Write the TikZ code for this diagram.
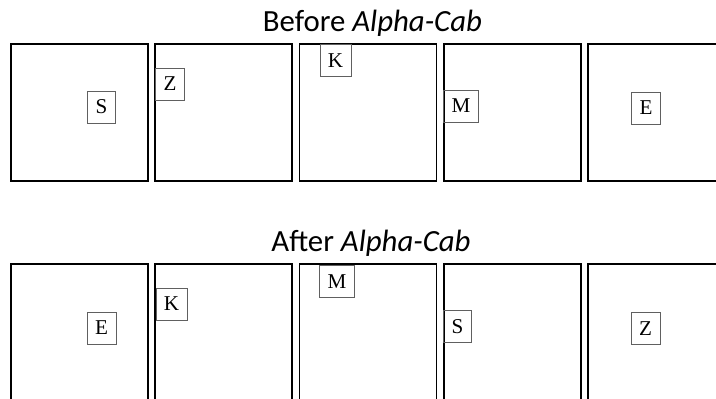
\documentclass[tikz,border=0pt]{standalone}
\usepackage{fontspec}
\setmainfont{Liberation Serif}
\newfontfamily\headfont{Carlito}
\tikzset{bay/.style = {draw, line width = 1.4pt}}
\tikzset{tag/.style = {draw = gray!75!black, line width = 0.5pt, inner xsep = 6.8pt,
    inner ysep = 0, minimum height = 27.3pt, font = \fontsize{18}{18}\selectfont}}
\tikzset{head/.style = {anchor = base, inner sep = 0, font = \headfont\fontsize{26.3}{26.3}\selectfont}}

\begin{document}
\begin{tikzpicture}[x = 0.03cm, y = -0.03cm]
  \useasboundingbox (0, 0) rectangle (716, 399);
  \clip (0, 0) rectangle (716, 399);
  % first row
  \node [head] (before) at (372.5, 32) {Before \textit{Alpha-Cab}};
  \foreach \i in {0, ..., 4}
    \draw [bay] ({11 + 144.3*\i}, 44) rectangle ++(137, 137);
  \node [tag] (s1) at (101.5, 107) {S};
  \node [tag] (z1) at (170, 84) {Z};
  \node [tag] (k1) at (335.5, 60.5) {K};
  \node [tag] (m1) at (461, 106) {M};
  \node [tag] (e1) at (646, 108) {E};
  % second row
  \node [head] (after) at (371, 252) {After \textit{Alpha-Cab}};
  \foreach \i in {0, ..., 4}
    \draw [bay] ({11 + 144.3*\i}, 264) rectangle ++(137, 137);
  \node [tag] (e2) at (101.5, 328) {E};
  \node [tag] (k2) at (171.5, 304) {K};
  \node [tag] (m2) at (337, 281.5) {M};
  \node [tag] (s2) at (457.5, 326.5) {S};
  \node [tag] (z2) at (645.5, 328.5) {Z};
\end{tikzpicture}
\end{document}
